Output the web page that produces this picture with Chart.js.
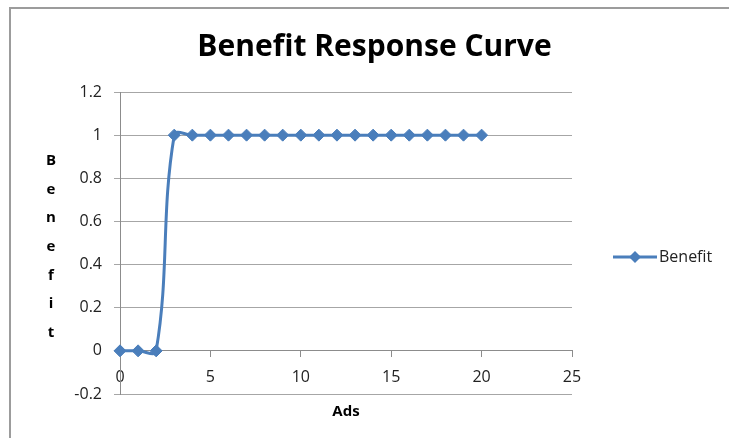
<!DOCTYPE html>
<html>
<head>
<meta charset="utf-8">
<script src="https://cdn.jsdelivr.net/npm/chart.js@4"></script>
<style>
  html, body { margin: 0; padding: 0; background: #fff; overflow: hidden; }
  #frame {
    position: absolute; left: 9px; top: 7px;
    border-left: 2px solid #9c9c9c; border-top: 2px solid #9c9c9c;
  }
  canvas { display: block; }
</style>
</head>
<body>
<div id="frame"><canvas id="grafico" width="729" height="429"></canvas></div>
<script>
const chartTitle = 'Benefit Response Curve';
const xTitle = 'Ads';
const yTitle = 'Benefit';
const seriesName = 'Benefit';

const ads = [0, 1, 2, 3, 4, 5, 6, 7, 8, 9, 10, 11, 12, 13, 14, 15, 16, 17, 18, 19, 20];
const benefit = [0, 0, 0, 1, 1, 1, 1, 1, 1, 1, 1, 1, 1, 1, 1, 1, 1, 1, 1, 1, 1];

const xTicks = [0, 5, 10, 15, 20, 25];
const yTicks = [-0.2, 0, 0.2, 0.4, 0.6, 0.8, 1, 1.2];

const azul = '#4A7EBB';
const tickFont = { family: '"Open Sans", sans-serif', size: 16 };

const puntos = ads.map((x, i) => ({ x: x, y: benefit[i] }));

// titulo, titulos de ejes y leyenda dibujados a mano
const textos = {
    id: 'textos',
    afterDraw(chart) {
        const { ctx, chartArea: a } = chart;
        ctx.save();
        ctx.fillStyle = '#000';
        ctx.textAlign = 'center';
        ctx.textBaseline = 'middle';

        ctx.font = 'bold 30px "Open Sans", sans-serif';
        ctx.fillText(chartTitle, chart.width / 2 - 1, 38);

        ctx.font = 'bold 15px "Open Sans", sans-serif';
        yTitle.split('').forEach((letra, i) => {
            ctx.fillText(letra, 40, a.top + 69 + i * 28.6);
        });
        ctx.fillText(xTitle, (a.left + a.right) / 2, a.bottom + 18);

        // leyenda: linea con rombo
        const ly = a.top + 165;
        ctx.strokeStyle = azul;
        ctx.lineWidth = 3;
        ctx.beginPath();
        ctx.moveTo(a.right + 41, ly);
        ctx.lineTo(a.right + 85, ly);
        ctx.stroke();
        const cx = a.right + 63;
        ctx.fillStyle = azul;
        ctx.beginPath();
        ctx.moveTo(cx - 6, ly);
        ctx.lineTo(cx, ly - 6);
        ctx.lineTo(cx + 6, ly);
        ctx.lineTo(cx, ly + 6);
        ctx.closePath();
        ctx.fill();

        ctx.fillStyle = '#222';
        ctx.textAlign = 'left';
        ctx.font = '16px "Open Sans", sans-serif';
        ctx.fillText(seriesName, a.right + 87, ly);
        ctx.restore();
    }
};

new Chart(document.getElementById('grafico'), {
    type: 'line',
    data: {
        datasets: [{
            label: seriesName,
            data: puntos,
            borderColor: azul,
            backgroundColor: azul,
            borderWidth: 3,
            tension: 0.4,
            pointStyle: 'rectRot',
            pointRadius: 6,
            pointHoverRadius: 6,
            pointBorderWidth: 1,
            clip: false
        }]
    },
    options: {
        responsive: false,
        animation: false,
        events: [],
        layout: { padding: { top: 83, right: 168, bottom: 44, left: 0 } },
        plugins: {
            legend: { display: false },
            title: { display: false },
            tooltip: { enabled: false }
        },
        scales: {
            x: {
                type: 'linear',
                position: { y: 0 },
                min: 0,
                max: 25,
                afterBuildTicks: s => { s.ticks = xTicks.map(v => ({ value: v })); },
                grid: { drawOnChartArea: false, tickLength: 6, color: '#8c8c8c' },
                border: { color: '#8c8c8c', width: 1 },
                ticks: { font: tickFont, color: '#222', padding: 11, maxRotation: 0 }
            },
            y: {
                min: -0.2,
                max: 1.2,
                afterBuildTicks: s => { s.ticks = yTicks.map(v => ({ value: v })); },
                afterFit: s => { s.width = 109; },
                grid: { tickLength: 6, color: '#a6a6a6' },
                border: { color: '#8c8c8c', width: 1 },
                ticks: {
                    font: tickFont,
                    color: '#222',
                    padding: 12,
                    callback: v => String(Math.round(v * 10) / 10)
                }
            }
        }
    },
    plugins: [textos]
});
</script>
</body>
</html>
